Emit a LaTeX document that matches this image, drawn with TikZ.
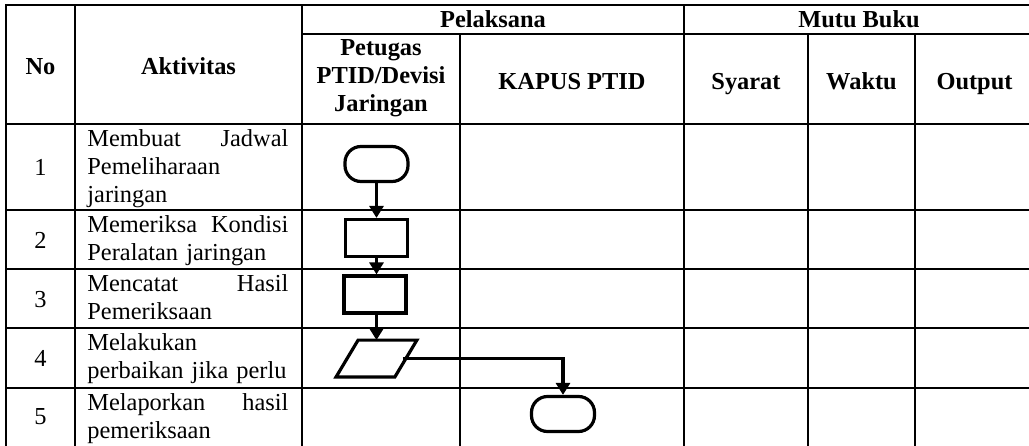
\documentclass[tikz,border=0pt]{standalone}
\usepackage{fontspec}
\setmainfont{Liberation Serif}
\usepackage{tikz}
\usetikzlibrary{shapes.geometric, arrows.meta, positioning}

\begin{document}
\begin{tikzpicture}[x=0.5pt, y=-0.5pt,
    grid/.style={line width=1pt},
    cell/.style={inner sep=0pt, font=\fontsize{12.2}{14}\selectfont},
    head/.style={cell, font=\fontsize{12.2}{14}\selectfont\bfseries},
    activity/.style={cell, anchor=north west, text width=100.5pt, align=left},
    terminal/.style={draw, line width=1.6pt, rounded corners=8pt, minimum width=31.5pt, minimum height=17.5pt, inner sep=0pt},
    process/.style={draw, line width=1.6pt, minimum width=31pt, minimum height=18.5pt, inner sep=0pt},
    inoutbox/.style={minimum width=40pt, minimum height=18pt, inner sep=0pt},
    flow/.style={-{Triangle[length=6pt,width=7pt]}, line width=1.6pt}]
    \useasboundingbox (0,0) rectangle (1029,445);
    \clip (0,0) rectangle (1029,445);

    % Table frame
    \draw[grid] (6,450) -- (6,5) -- (1040,5);
    \draw[grid] (302,33.5) -- (1040,33.5);
    \draw[grid] (6,124) -- (1040,124);
    \draw[grid] (6,210) -- (1040,210);
    \draw[grid] (6,269) -- (1040,269);
    \draw[grid] (6,328) -- (1040,328);
    \draw[grid] (6,388) -- (1040,388);

    % Columns
    \draw[grid] (75,5) -- (75,450);
    \draw[grid] (302,5) -- (302,450);
    \draw[grid] (684,5) -- (684,450);
    \draw[grid] (460,33.5) -- (460,450);
    \draw[grid] (808,33.5) -- (808,450);
    \draw[grid] (915,33.5) -- (915,450);

    % Header
    \node[head, anchor=base] (hno) at (40.5,74) {No};
    \node[head, anchor=base] (hakt) at (188.5,74) {Aktivitas};
    \node[head, anchor=base] (hpel) at (493,27.5) {Pelaksana};
    \node[head, anchor=base] (hmutu) at (859,27.5) {Mutu Buku};
    \node[head, align=center] (hpetugas) at (381,78.5) {Petugas\\PTID/Devisi\\Jaringan};
    \node[head, anchor=base] (hkapus) at (572,89) {KAPUS PTID};
    \node[head, anchor=base] (hsyarat) at (746,89) {Syarat};
    \node[head, anchor=base] (hwaktu) at (861.5,89) {Waktu};
    \node[head, anchor=base] (houtput) at (974.5,89) {Output};

    % Row numbers
    \node[cell, anchor=base] (no1) at (40.5,175.5) {1};
    \node[cell, anchor=base] (no2) at (40.5,248) {2};
    \node[cell, anchor=base] (no3) at (40.5,307) {3};
    \node[cell, anchor=base] (no4) at (40.5,366) {4};
    \node[cell, anchor=base] (no5) at (40.5,424.5) {5};

    % Activities
    \node[activity] (act1) at (87,129.5) {Membuat\hfill Jadwal\\Pemeliharaan\\jaringan};
    \node[activity] (act2) at (87,215.5) {Memeriksa\hfill Kondisi\\Peralatan jaringan};
    \node[activity] (act3) at (87,274.5) {Mencatat\hfill Hasil\\Pemeriksaan};
    \node[activity] (act4) at (87,333.5) {Melakukan\\perbaikan jika perlu};
    \node[activity] (act5) at (87,393.5) {Melaporkan\hfill hasil\\pemeriksaan};

    % Flow
    \node[terminal] (start) at (376.5,164) {};
    \node[process] (check) at (376.5,238) {};
    \node[process] (note) at (375,294.5) {};
    \node[inoutbox] (repair) at (376.5,358.5) {};
    \node[terminal] (report) at (563,414) {};
    \draw[line width=1.6pt, line join=miter] ([xshift=11pt]repair.north west) -- (repair.north east)
        -- ([xshift=-11pt]repair.south east) -- (repair.south west) -- cycle;

    \draw[flow] (start) -- (check);
    \draw[flow] (check) -- (check |- note.north);
    \draw[flow] (note.south -| repair.north) -- (repair);
    \draw[flow] ([xshift=-7pt]repair.east) -| (report.north);
\end{tikzpicture}
\end{document}
